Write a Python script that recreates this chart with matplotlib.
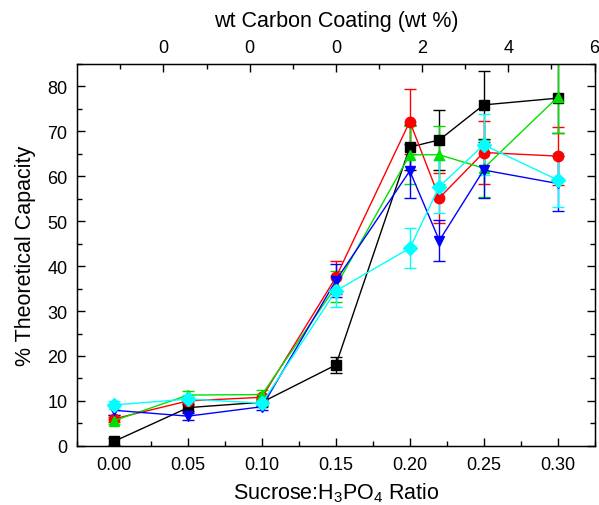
import matplotlib
matplotlib.use("Agg")
import matplotlib.pyplot as plt
from matplotlib.ticker import MultipleLocator, FixedLocator, FixedFormatter

plt.rcParams['font.family'] = ['Liberation Sans', 'DejaVu Sans']
plt.rcParams['mathtext.fontset'] = 'custom'
plt.rcParams['mathtext.rm'] = 'Liberation Sans'
plt.rcParams['mathtext.it'] = 'Liberation Sans'
plt.rcParams['mathtext.default'] = 'regular'

# Sucrose:H3PO4 ratio
ratio = [0.00, 0.05, 0.10, 0.15, 0.20, 0.22, 0.25, 0.30]

# % theoretical capacity per sample series, with error
black_y = [1.0, 8.5, 9.7, 18.0, 66.5, 68.1, 75.9, 77.4]
black_e = [0.8, 0.8, 0.8, 1.7, 5.0, 6.7, 7.5, 7.8]
red_y = [6.0, 10.0, 10.8, 37.5, 72.2, 55.2, 65.3, 64.5]
red_e = [0.8, 0.8, 0.8, 3.6, 7.2, 5.6, 7.0, 6.5]
green_y = [5.6, 11.3, 11.4, 35.5, 64.8, 64.8, 61.8, 77.6]
green_e = [0.8, 1.0, 1.0, 3.5, 6.5, 6.5, 6.3, 8.0]
blue_y = [7.9, 6.6, 8.7, 36.8, 61.2, 45.7, 61.4, 58.4]
blue_e = [1.0, 0.8, 0.8, 3.6, 6.1, 4.6, 6.3, 6.2]
cyan_y = [9.1, 10.4, 9.5, 34.5, 44.0, 57.7, 67.0, 59.2]
cyan_e = [0.8, 0.8, 0.8, 3.6, 4.4, 5.9, 6.8, 6.0]

series = [
    (black_y, black_e, 'black', 's'),
    (red_y, red_e, '#ff0000', 'o'),
    (green_y, green_e, '#00e000', '^'),
    (blue_y, blue_e, '#0000ff', 'v'),
    (cyan_y, cyan_e, '#00ffff', 'D'),
]

# Top axis: carbon coating, wt %
top_ticks = [-4, -2, 0, 2, 4, 6]
top_labels = ['0', '0', '0', '2', '4', '6']

fig = plt.figure(figsize=(5.99, 5.06), dpi=100)
ax = fig.add_axes([0.129, 0.117, 0.8635, 0.7545])

for y, e, c, m in series:
    ms = 7 if m == 'D' else 7.5
    ax.errorbar(ratio, y, yerr=e, color=c, marker=m, markersize=ms,
                markeredgecolor=c, markerfacecolor=c,
                linewidth=1.0, elinewidth=1.0, capsize=4, capthick=1.0)

ax.set_xlim(-0.025, 0.325)
ax.set_ylim(0, 85)
ax.xaxis.set_major_locator(MultipleLocator(0.05))
ax.xaxis.set_minor_locator(MultipleLocator(0.025))
ax.yaxis.set_major_locator(MultipleLocator(10))
ax.yaxis.set_minor_locator(MultipleLocator(5))
ax.xaxis.set_major_formatter(matplotlib.ticker.FormatStrFormatter('%.2f'))
ax.tick_params(which='both', direction='in', right=True, top=False,
               labelsize=13, width=1.0)
ax.tick_params(which='major', length=6, pad=7)
ax.tick_params(which='minor', length=3.5)
for s in ax.spines.values():
    s.set_linewidth(1.0)

ax.set_xlabel('Sucrose:H$_3$PO$_4$ Ratio', fontsize=15.5, labelpad=6)
ax.set_ylabel('% Theoretical Capacity', fontsize=15.5, labelpad=8)

ax2 = ax.twiny()
ax2.set_xlim(-6, 6)
ax2.xaxis.set_major_locator(FixedLocator(top_ticks))
ax2.xaxis.set_major_formatter(FixedFormatter(top_labels))
ax2.xaxis.set_minor_locator(FixedLocator([-5, -3, -1, 1, 3, 5]))
ax2.tick_params(which='both', direction='in', labelsize=13, width=1.0)
ax2.tick_params(which='major', length=6, pad=6)
ax2.tick_params(which='minor', length=3.5)
ax2.set_xlabel('wt Carbon Coating (wt %)', fontsize=15.5, labelpad=9)

fig.savefig('out.png', dpi=100)
